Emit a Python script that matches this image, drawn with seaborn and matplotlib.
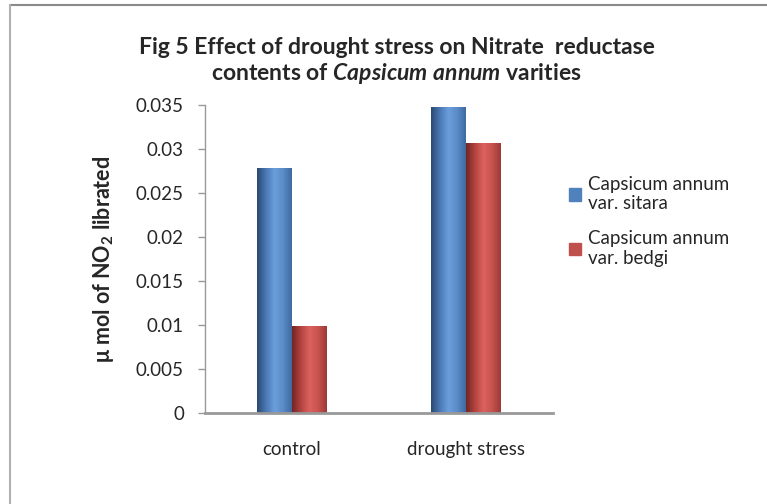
import matplotlib
matplotlib.use("Agg")
import matplotlib.pyplot as plt
import matplotlib.patches as patches
import matplotlib.lines as mlines
import seaborn as sns
import numpy as np
import pandas as pd
from matplotlib.colors import LinearSegmentedColormap

# data
categories = ["control", "drought stress"]
varieties = ["Capsicum annum\nvar. sitara", "Capsicum annum\nvar. bedgi"]
sitara = [0.0278, 0.0347]
bedgi = [0.0099, 0.0307]
yticks = [0, 0.005, 0.01, 0.015, 0.02, 0.025, 0.03, 0.035]
ytick_labels = ["0", "0.005", "0.01", "0.015", "0.02", "0.025", "0.03", "0.035"]

df = pd.DataFrame({
    "group": categories * 2,
    "variety": [varieties[0]] * 2 + [varieties[1]] * 2,
    "value": sitara + bedgi,
})

sns.set_style("white")
plt.rcParams["font.family"] = ["Lato", "DejaVu Sans"]
plt.rcParams["mathtext.fontset"] = "custom"
plt.rcParams["mathtext.rm"] = "Lato"
plt.rcParams["mathtext.it"] = "Lato:italic"
plt.rcParams["mathtext.bf"] = "Lato:bold"
plt.rcParams["mathtext.bfit"] = "Lato:bold:italic"

fig = plt.figure(figsize=(7.67, 5.04), dpi=100)
ax = fig.add_axes([0.267, 0.181, 0.454, 0.611])

blue = "#4F81BD"
red = "#C0504D"
sns.barplot(data=df, x="group", y="value", hue="variety", palette=[blue, red],
            width=0.4, gap=0, saturation=1, ax=ax, legend=False)

# cylinder-ish shading on each bar
shades = {
    blue: LinearSegmentedColormap.from_list("b", ["#2b4a72", "#4a78b4", "#6b9fdc", "#5b8cc8", "#3f6aa0"]),
    red: LinearSegmentedColormap.from_list("r", ["#722625", "#b2433f", "#dc625e", "#c8534f", "#9c3a37"]),
}
grad = np.linspace(0, 1, 64).reshape(1, -1)
for bar, col in zip(ax.patches, [blue, blue, red, red]):
    x0, y0 = bar.get_x(), bar.get_y()
    w, h = bar.get_width(), bar.get_height()
    im = ax.imshow(grad, cmap=shades[col], aspect="auto", extent=[x0, x0 + w, y0, y0 + h],
                   zorder=bar.get_zorder() + 0.1, interpolation="bicubic")
    im.set_clip_path(bar)

ax.set_xlim(-0.5, 1.5)
ax.set_ylim(0, 0.035)
ax.set_yticks(yticks)
ax.set_yticklabels(ytick_labels, fontsize=13.5, color="#262626")
ax.tick_params(axis="y", which="both", left=True, length=5, color="#999999", width=1, pad=10)
ax.tick_params(axis="x", bottom=False, labelsize=13.5, labelcolor="#262626", pad=17)
ax.set_xlabel("")
ax.set_ylabel(r"$\mathregular{\mu}$ mol of NO$_\mathregular{2}$ librated", fontsize=15.5,
              fontweight="bold", labelpad=14)

for s in ["top", "right"]:
    ax.spines[s].set_visible(False)
ax.spines["left"].set_color("#999999")
ax.spines["left"].set_linewidth(1)
ax.spines["bottom"].set_color("#999999")
ax.spines["bottom"].set_linewidth(2)

fig.text(0.517, 0.906, "Fig 5 Effect of drought stress on Nitrate  reductase",
         ha="center", va="center", fontsize=16.5, fontweight="bold")
fig.text(0.517, 0.855, r"contents of $\mathbfit{Capsicum\ annum}$ varities",
         ha="center", va="center", fontsize=16.5, fontweight="bold")

handles = [patches.Patch(color=blue, label=varieties[0]),
           patches.Patch(color=red, label=varieties[1])]
fig.legend(handles=handles, loc="upper left", bbox_to_anchor=(0.72, 0.685), frameon=False,
           fontsize=13.5, handlelength=0.65, handleheight=0.65, handletextpad=0.35,
           labelspacing=0.95)

# outer frame (top and left edges visible)
fig.add_artist(mlines.Line2D([0.013, 1.0], [0.99, 0.99], color="#8a8a8a", lw=1.5,
                             transform=fig.transFigure))
fig.add_artist(mlines.Line2D([0.013, 0.013], [0.0, 0.99], color="#b0b0b0", lw=1.5,
                             transform=fig.transFigure))

fig.savefig("out.png", dpi=100)
